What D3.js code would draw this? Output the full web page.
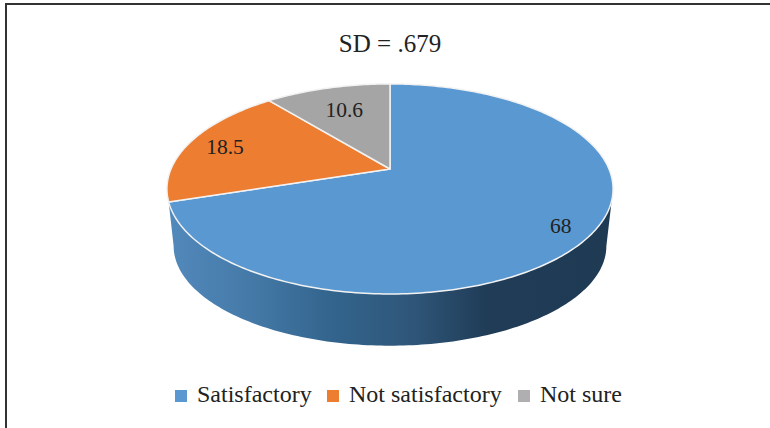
<!DOCTYPE html>
<html>
<head>
<meta charset="utf-8">
<script src="https://cdn.jsdelivr.net/npm/d3@7"></script>
<style>
  html, body { margin: 0; padding: 0; background: #fff; }
  svg { display: block; }
  text { font-family: "Liberation Serif", serif; fill: #222; }
</style>
</head>
<body>
<div id="chart"></div>
<script>
const categories = ["Satisfactory", "Not satisfactory", "Not sure"];
const values = [68, 18.5, 10.6];
const valueLabels = ["68", "18.5", "10.6"];
const chartTitle = "SD = .679";

const width = 770;
const height = 428;

//perspective of the disc
const cx = 390;
const apexY = 169;
const p_a = 219;
const p_b = 69.1;
const p_k = -0.19;

//wall of the disc
const discMidY = 189;
const wallMidY = 246;
const wallScaleX = 0.97;
const wallScaleY = 0.95;
const wallTangent = (101 * Math.PI) / 180;

//label radius as a share of the disc
const labelRadius = [0.87, 0.82, 0.7];

//legend dimensions
const l_edge = 12;
const l_y = 390;
const l_x = [175, 327, 518];
const l_text_x = [197, 349, 540];

const color = d3
  .scaleOrdinal()
  .domain(categories)
  .range(["#5a98d2", "#ed7d31", "#a5a5a5"]);
const legendColor = d3
  .scaleOrdinal()
  .domain(categories)
  .range(["#5a98d2", "#ed7d31", "#afafb2"]);

const project = (angle, r = 1) => {
  const u = r * Math.sin(angle);
  const v = -r * Math.cos(angle);
  const w = 1 + p_k * v;
  return [cx + (p_a * u) / w, (apexY + p_b * v) / w];
};

const projectBottom = (angle) => {
  const [x, y] = project(angle);
  return [cx + (x - cx) * wallScaleX, wallMidY + (y - discMidY) * wallScaleY];
};

const arcPoints = (start, end, fn) => {
  const n = Math.max(2, Math.ceil((Math.abs(end - start) * 180) / Math.PI));
  return d3.range(n + 1).map((i) => fn(start + ((end - start) * i) / n));
};

const line = d3.line();

const svg = d3
  .select("#chart")
  .append("svg")
  .attr("width", width)
  .attr("height", height);

svg.append("rect").attr("width", width).attr("height", height).attr("fill", "#fff");

//frame, open at the right and at the bottom
svg
  .append("path")
  .attr("d", line([[6, height], [6, 4], [width, 4]]))
  .attr("fill", "none")
  .attr("stroke", "#333")
  .attr("stroke-width", 2);

const slices = d3.pie().sort(null).value((d) => d)(values);

//wall gradient
const grad = svg
  .append("defs")
  .append("linearGradient")
  .attr("id", "wall")
  .attr("gradientUnits", "userSpaceOnUse")
  .attr("x1", 170)
  .attr("x2", 610)
  .attr("y1", 0)
  .attr("y2", 0);
[
  [0, "#5289bb"],
  [0.18, "#457aa8"],
  [0.36, "#33658e"],
  [0.55, "#2f5679"],
  [0.72, "#203c57"],
  [1, "#1f3a53"],
].forEach(([o, c]) => grad.append("stop").attr("offset", o).attr("stop-color", c));

//draw wall of the big slice
svg
  .append("path")
  .attr(
    "d",
    line([
      ...arcPoints(wallTangent, slices[0].endAngle, project),
      ...arcPoints(2 * Math.PI - wallTangent, wallTangent, projectBottom),
    ]) + "Z"
  )
  .attr("fill", "url(#wall)");

//draw slices
svg
  .append("g")
  .selectAll("path")
  .data(slices)
  .join("path")
  .attr(
    "d",
    (d) =>
      line([
        project(0, 0),
        ...arcPoints(d.startAngle, d.endAngle, project),
      ]) + "Z"
  )
  .attr("fill", (d, i) => color(categories[i]))
  .attr("stroke", "#f2f2f2")
  .attr("stroke-width", 1.5)
  .attr("stroke-linejoin", "round");

//value labels
svg
  .append("g")
  .selectAll("text")
  .data(slices)
  .join("text")
  .attr("x", (d, i) => project((d.startAngle + d.endAngle) / 2, labelRadius[i])[0])
  .attr("y", (d, i) => project((d.startAngle + d.endAngle) / 2, labelRadius[i])[1] + 7)
  .attr("text-anchor", "middle")
  .attr("font-size", 21.5)
  .text((d, i) => valueLabels[i]);

//title
svg
  .append("text")
  .attr("x", cx)
  .attr("y", 52)
  .attr("text-anchor", "middle")
  .attr("font-size", 25)
  .text(chartTitle);

//legend cubes
svg
  .append("g")
  .selectAll("rect")
  .data(categories)
  .join("rect")
  .attr("x", (d, i) => l_x[i])
  .attr("y", l_y)
  .attr("width", l_edge)
  .attr("height", l_edge)
  .attr("fill", (d) => legendColor(d));

//legend texts
svg
  .append("g")
  .selectAll("text")
  .data(categories)
  .join("text")
  .attr("x", (d, i) => l_text_x[i])
  .attr("y", l_y + 12)
  .attr("font-size", 24)
  .text((d) => d);
</script>
</body>
</html>
